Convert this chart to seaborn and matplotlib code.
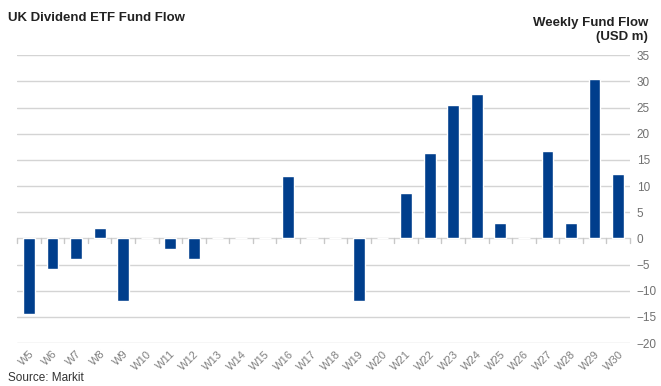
import numpy as np
import pandas as pd
import matplotlib
matplotlib.use("Agg")
import matplotlib.pyplot as plt
import seaborn as sns

# weekly fund flow, USD m
weeks = ["W" + str(i) for i in range(5, 31)]
flows = [-14.5, -5.8, -4.0, 2.0, -12.0, 0.0, -2.0, -4.0, 0.0, 0.0, 0.0, 12.0, 0.0,
         0.0, -12.0, 0.0, 8.7, 16.3, 25.5, 27.6, 3.0, 0.0, 16.7, 3.0, 30.5, 12.3]
yticks = list(range(-20, 36, 5))

df = pd.DataFrame({"Week": weeks, "Flow": flows})

sns.set_style("white")
plt.rcParams['font.family'] = ['Liberation Sans', 'DejaVu Sans']

fig = plt.figure(figsize=(6.61, 3.86), dpi=100)
ax = fig.add_axes([0.026, 0.111, 0.927, 0.746])

# grid first
for v in yticks:
    ax.axhline(v, color="#d4d4d4", lw=1, zorder=0)

sns.barplot(data=df, x="Week", y="Flow", color="#003e8c", width=0.5,
            saturation=1, ax=ax, zorder=2)

ax.set_ylim(-20, 35)
ax.set_xlim(-0.5, len(weeks) - 0.5)
ax.yaxis.tick_right()
ax.set_yticks(yticks)
ax.tick_params(axis="y", length=0, labelsize=8.5, labelcolor="#707070", pad=5)
ax.set_xlabel("")
ax.set_ylabel("")
for s in ax.spines.values():
    s.set_visible(False)

# small ticks on the zero line between categories
for b in np.arange(-0.5, len(weeks), 1.0):
    ax.plot([b, b], [0, -0.8], color="#c8c8c8", lw=1, zorder=1, clip_on=False)

ax.set_xticks(range(len(weeks)))
ax.set_xticklabels(weeks, rotation=45, ha="right", rotation_mode="anchor")
ax.tick_params(axis="x", length=0, labelsize=8, labelcolor="#808080", pad=4)

fig.text(0.012, 0.968, "UK Dividend ETF Fund Flow", fontsize=9.5, fontweight="bold",
         color="#222222", va="top", ha="left")
fig.text(0.98, 0.955, "Weekly Fund Flow\n(USD m)", fontsize=9.5, fontweight="bold",
         color="#222222", va="top", ha="right", linespacing=1.15)
fig.text(0.012, 0.005, "Source: Markit", fontsize=8.5, color="#333333",
         va="bottom", ha="left")

fig.savefig("out.png", dpi=100)
